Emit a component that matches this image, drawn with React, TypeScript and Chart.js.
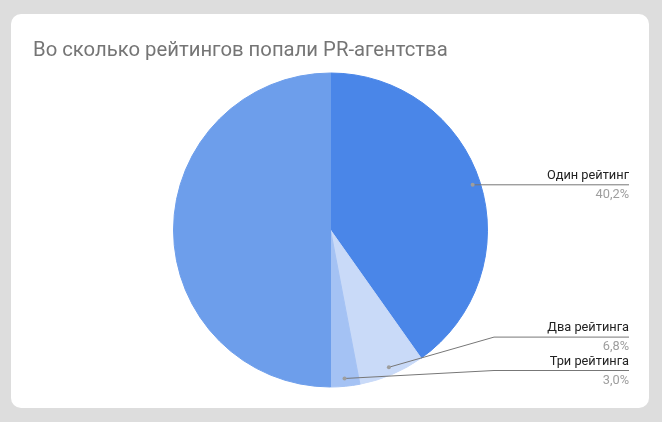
import React, { useEffect, useRef } from "react";
import { Chart, registerables } from "chart.js";

Chart.register(...registerables);

const TITLE = "Во сколько рейтингов попали PR-агентства";
const categories = ["Один рейтинг", "Два рейтинга", "Три рейтинга", "Остальные"];
const values = [40.2, 6.8, 3.0, 50.0];
const colors = ["#4a86e8", "#c9daf8", "#a4c2f4", "#6d9eeb"];
const showLabel = [true, true, true, false];

const FONT = "Roboto, 'Liberation Sans', Arial, sans-serif";

const labelPlugin = {
  id: "sideLabels",
  afterDraw(chart: any) {
    const ctx = chart.ctx as CanvasRenderingContext2D;
    // title
    ctx.save();
    ctx.font = `20.3px ${FONT}`;
    ctx.fillStyle = "#757575";
    ctx.textAlign = "left";
    ctx.textBaseline = "alphabetic";
    ctx.fillText(TITLE, 33, 56);
    ctx.restore();

    const meta = chart.getDatasetMeta(0);
    const arcs = meta.data as any[];
    if (!arcs.length) return;
    const cx = arcs[0].x;
    const cy = arcs[0].y;
    const R = arcs[0].outerRadius;
    const total = values.reduce((a, b) => a + b, 0);
    const items: any[] = [];
    arcs.forEach((arc: any, i: number) => {
      if (!showLabel[i]) return;
      const mid = (arc.startAngle + arc.endAngle) / 2;
      const dx = cx + Math.cos(mid) * R * 0.95;
      const dy = cy + Math.sin(mid) * R * 0.95;
      items.push({ i, dx, dy, ly: dy });
    });
    // layout: clamp to bottom, keep spacing
    const maxY = cy + R - 16.5;
    const gap = 33.4;
    items.sort((a, b) => a.ly - b.ly);
    for (let k = items.length - 1; k >= 0; k--) {
      const limit = k === items.length - 1 ? maxY : items[k + 1].ly - gap;
      if (items[k].ly > limit) items[k].ly = limit;
    }
    const elbowX = 494;
    const endX = 629;
    items.forEach((it) => {
      ctx.save();
      ctx.strokeStyle = "#777777";
      ctx.lineWidth = 1;
      ctx.beginPath();
      ctx.moveTo(it.dx, it.dy);
      if (Math.abs(it.ly - it.dy) > 0.5) {
        ctx.lineTo(elbowX, it.ly);
      }
      ctx.lineTo(endX, it.ly);
      ctx.stroke();
      ctx.fillStyle = "#9e9e9e";
      ctx.beginPath();
      ctx.arc(it.dx, it.dy, 2, 0, Math.PI * 2);
      ctx.fill();
      ctx.font = `12.8px ${FONT}`;
      ctx.textAlign = "right";
      ctx.textBaseline = "alphabetic";
      ctx.fillStyle = "#222222";
      ctx.fillText(categories[it.i], endX, it.ly - 6);
      ctx.fillStyle = "#9e9e9e";
      const pct = ((values[it.i] / total) * 100).toFixed(1).replace(".", ",") + "%";
      ctx.fillText(pct, endX, it.ly + 13);
      ctx.restore();
    });
  },
};

export default function App() {
  const ref = useRef<HTMLCanvasElement | null>(null);
  useEffect(() => {
    document.body.style.margin = "0";
    if (!ref.current) return;
    const chart = new Chart(ref.current, {
      type: "pie",
      data: {
        labels: categories,
        datasets: [
          {
            data: values,
            backgroundColor: colors,
            borderColor: colors,
            borderWidth: 1,
          },
        ],
      },
      options: {
        animation: false,
        responsive: false,
        maintainAspectRatio: false,
        layout: { padding: { left: 173, right: 174, top: 72.5, bottom: 34.5 } },
        plugins: {
          legend: { display: false },
          tooltip: { enabled: false },
          title: { display: false },
        },
      },
      plugins: [labelPlugin],
    });
    return () => chart.destroy();
  }, []);
  return (
    <div style={{ position: "relative", width: 662, height: 422, background: "#dddddd", overflow: "hidden" }}>
      <div
        style={{
          position: "absolute",
          left: 11,
          top: 14,
          width: 638,
          height: 394,
          background: "#ffffff",
          borderRadius: 10,
        }}
      />
      <canvas ref={ref} width={662} height={422} style={{ position: "absolute", left: 0, top: 0, width: 662, height: 422 }} />
    </div>
  );
}
